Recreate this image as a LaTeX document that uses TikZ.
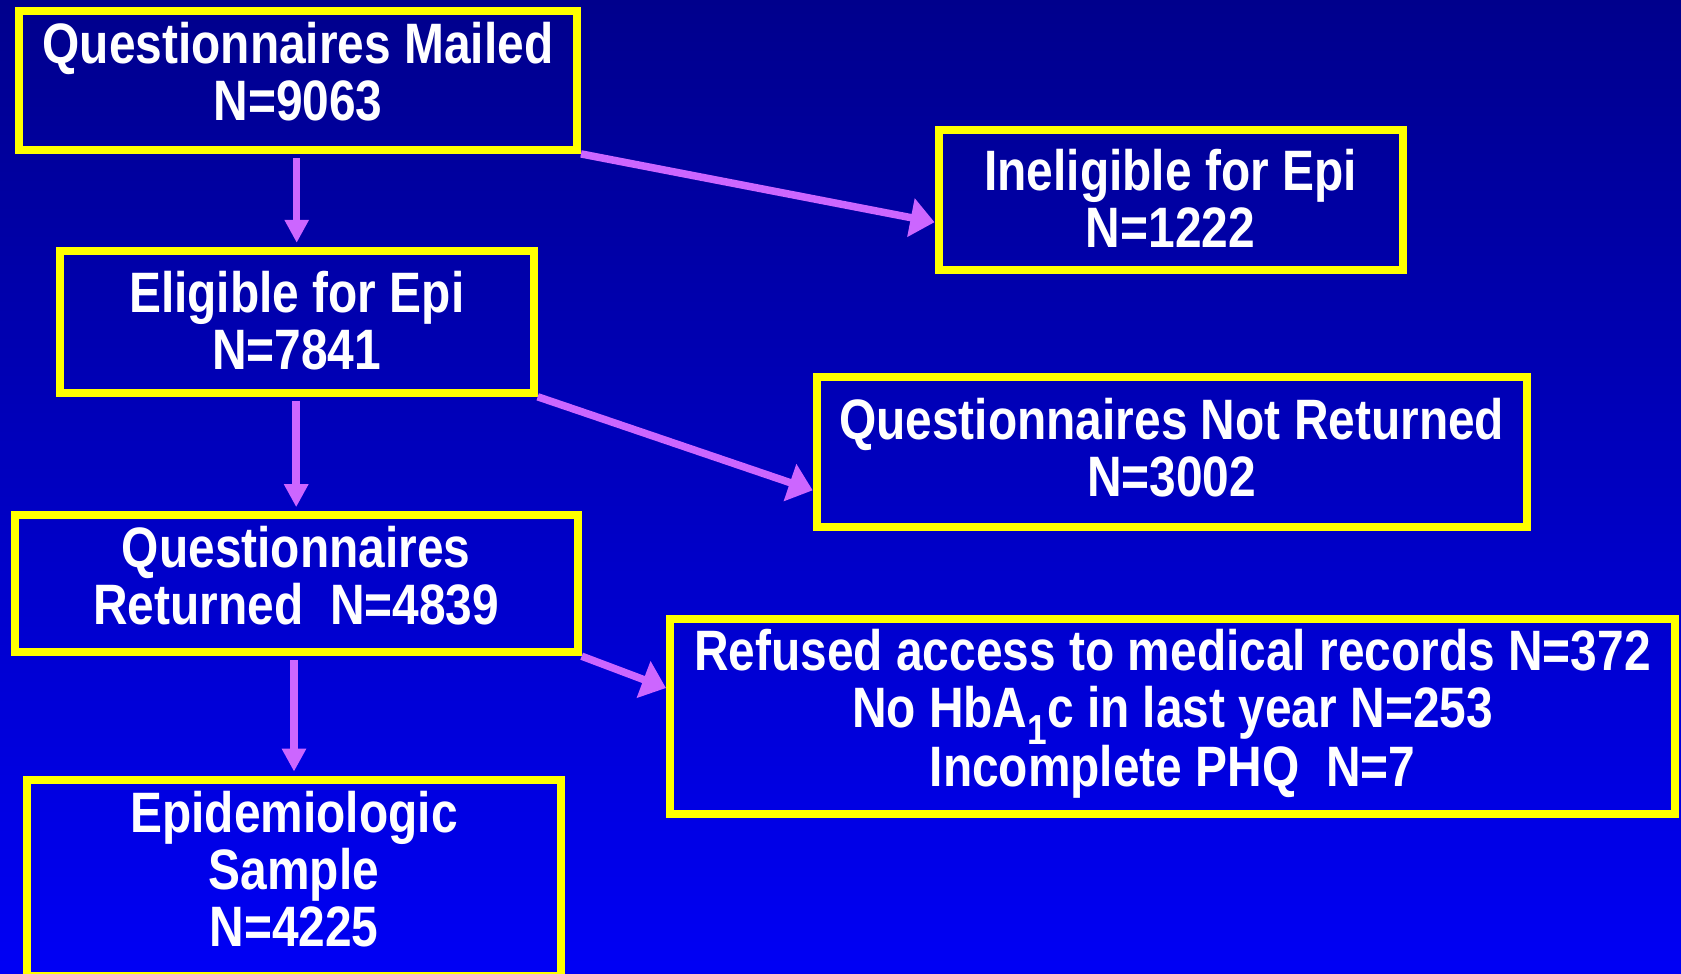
\documentclass[tikz,border=0pt]{standalone}
\usepackage{fontspec}
\setmainfont{Liberation Sans}[FakeStretch=0.84]
\usetikzlibrary{arrows.meta,calc}
\definecolor{bgtop}{RGB}{0,0,140}
\definecolor{bgmid}{RGB}{0,0,200}
\definecolor{bgbot}{RGB}{0,0,245}
\definecolor{boxyellow}{RGB}{255,255,0}
\definecolor{arrowviolet}{RGB}{204,102,255}
\tikzset{
  flowbox/.style={draw=boxyellow,line width=8pt,text=white,align=center,inner sep=0pt,
    font=\bfseries\fontsize{57}{57}\selectfont},
  downarr/.style={draw=arrowviolet,line width=7.5pt,-{Triangle[width=23pt,length=23pt]},
    shorten <=4pt,shorten >=4pt},
  sidearr/.style={draw=arrowviolet,line width=7.5pt,-{Triangle[width=38pt,length=24pt]}}
}
\begin{document}
\begin{tikzpicture}[x=1pt,y=-1pt]
  \useasboundingbox (0,0) rectangle (1681,974);
  \shade[top color=bgtop,middle color=bgmid,bottom color=bgbot] (0,0) rectangle (1681,974);
  % left column
  \node[flowbox,minimum width=558pt,minimum height=139pt,text depth=18pt] (mailed) at (298,80.4)
    {Questionnaires Mailed\\N=9063};
  \node[flowbox,minimum width=474pt,minimum height=142pt,text depth=3pt] (eligible) at (296.7,321.8)
    {Eligible for Epi\\N=7841};
  \node[flowbox,minimum width=563pt,minimum height=137pt,text depth=16pt] (returned) at (296.2,583.7)
    {Questionnaires\\Returned\ \ N=4839};
  \node[flowbox,minimum width=534pt,minimum height=196pt,text depth=17pt] (epi) at (294,877.6)
    {Epidemiologic\\Sample\\N=4225};
  % right column
  \node[flowbox,minimum width=464pt,minimum height=140pt,text depth=4pt] (inelig) at (1170.5,200.2)
    {Ineligible for Epi\\N=1222};
  \node[flowbox,minimum width=710pt,minimum height=150pt,text depth=9pt] (notret) at (1171.7,452.3)
    {Questionnaires Not Returned\\N=3002};
  \node[flowbox,minimum width=1005pt,minimum height=195pt,text depth=16pt] (excluded) at (1172.5,716)
    {Refused access to medical records N=372\\
     No HbA\raisebox{-17pt}{\fontsize{42}{42}\selectfont 1}c in last year N=253\\
     Incomplete PHQ\ \ N=7};
  % arrows
  \draw[downarr] (eligible.north |- mailed.south) -- (eligible.north);
  \draw[downarr] (returned.north |- eligible.south) -- (returned.north);
  \draw[downarr] (epi.north |- returned.south) -- (epi.north);
  \draw[sidearr] (mailed.south east) -- ($(inelig.west)+(0,22)$);
  \draw[sidearr] (eligible.south east) -- ($(notret.west)+(0,38)$);
  \draw[sidearr] (returned.south east) -- ($(excluded.west)+(0,-28)$);
\end{tikzpicture}
\end{document}
